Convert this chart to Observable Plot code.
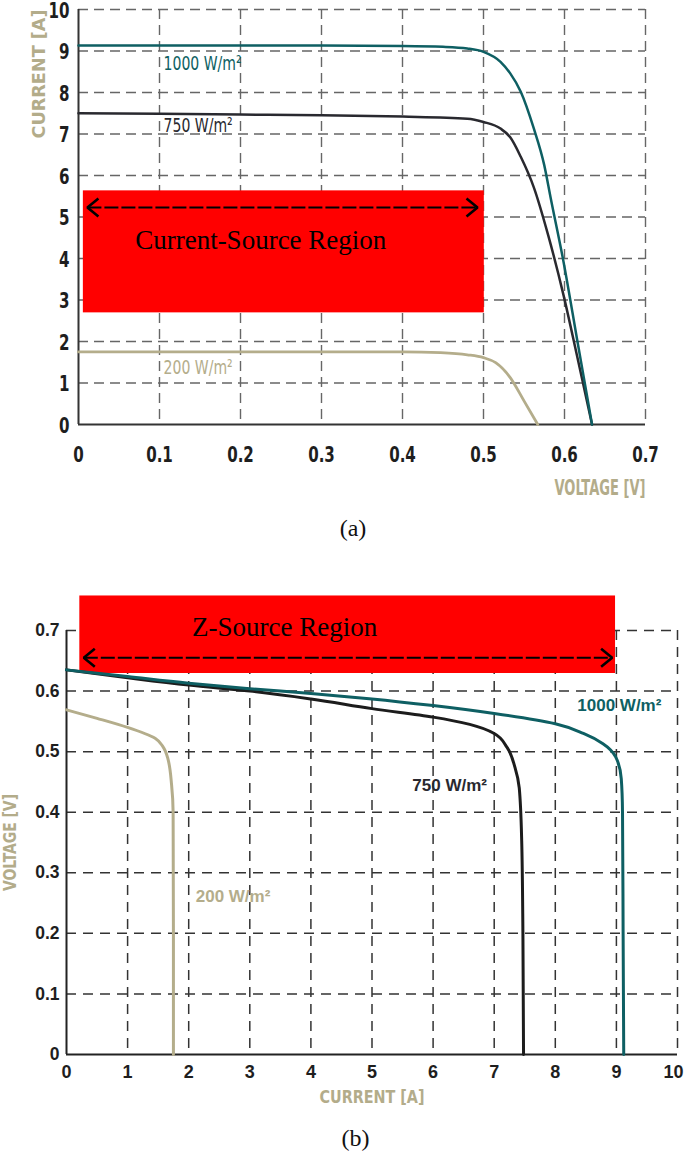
<!DOCTYPE html>
<html><head><meta charset="utf-8">
<script src="https://cdn.jsdelivr.net/npm/d3@7"></script>
<script src="https://cdn.jsdelivr.net/npm/@observablehq/plot@0.6"></script>
<style>
html,body{margin:0;padding:0;background:#fff;overflow:hidden;}
#wrap{width:685px;}
svg{display:block}
.cap{font-family:"Liberation Serif","Times New Roman",serif;font-size:24px;color:#111;text-align:center;white-space:nowrap;}
</style></head><body><div id="wrap"></div>
<script>
// ---------- data ----------
const irradiance = ["1000 W/m²", "750 W/m²", "200 W/m²"];
// panel (a): tick values
const voltageTicksA = [0, 0.1, 0.2, 0.3, 0.4, 0.5, 0.6, 0.7];
const currentTicksA = [0, 1, 2, 3, 4, 5, 6, 7, 8, 9, 10];
// panel (b): tick values
const currentTicksB = [0, 1, 2, 3, 4, 5, 6, 7, 8, 9, 10];
const voltageTicksB = [0, 0.1, 0.2, 0.3, 0.4, 0.5, 0.6, 0.7];

// panel (a) I-V curves: [voltage V, current A]
const ivA1000 = [[0,9.13],[0.1,9.13],[0.2,9.13],[0.3,9.13],[0.4,9.12],[0.45,9.10],[0.48,9.06],[0.50,8.98],[0.521,8.74],[0.533,8.46],[0.546,8.02],[0.562,7.14],[0.575,6.25],[0.583,5.45],[0.599,3.9],[0.616,2.0],[0.634,0]];
const ivA750  = [[0,7.50],[0.1,7.49],[0.2,7.47],[0.3,7.45],[0.4,7.42],[0.48,7.37],[0.50,7.29],[0.521,7.13],[0.533,6.92],[0.546,6.45],[0.562,5.72],[0.58,4.55],[0.599,3.1],[0.615,1.7],[0.634,0]];
const ivA200  = [[0,1.75],[0.2,1.75],[0.4,1.75],[0.447,1.73],[0.48,1.68],[0.50,1.61],[0.515,1.49],[0.533,1.13],[0.55,0.57],[0.567,0]];

// panel (b) V-I curves: [current A, voltage V]
const viB1000 = [[0,0.635],[1,0.624],[2,0.613],[3,0.604],[4,0.596],[5,0.587],[6,0.576],[7,0.563],[8,0.546],[8.46,0.530],[8.78,0.513],[8.99,0.491],[9.08,0.455],[9.10,0.40],[9.11,0.2],[9.12,0]];
const viB750  = [[0,0.635],[1,0.622],[2,0.610],[3,0.600],[4,0.587],[5,0.571],[6,0.557],[6.6,0.545],[7.0,0.530],[7.21,0.507],[7.34,0.474],[7.41,0.44],[7.45,0.353],[7.47,0.2],[7.48,0]];
const viB200  = [[0,0.569],[0.5,0.555],[1.0,0.540],[1.45,0.522],[1.58,0.508],[1.66,0.488],[1.72,0.445],[1.745,0.40],[1.75,0.2],[1.75,0]];

// curve label anchors
const labelPosA = [[0.105, 8.69], [0.105, 7.2], [0.105, 1.36]];   // [V, I]
const labelPosB = [[8.36, 0.576], [5.66, 0.444], [2.115, 0.26]];  // [I, V]

// highlighted regions
const regionA = [{x1: 0.006, x2: 0.501, y1: 2.69, y2: 5.63, ax1: 0.011, ax2: 0.4926, ay: 5.23, tx: 0.225, ty: 4.44, label: "Current-Source Region"}];
const regionB = [{x1: 0.218, x2: 8.986, y1: 0.629, y2: 0.757, ax1: 0.283, ax2: 8.93, ay: 0.655, tx: 3.57, ty: 0.706, label: "Z-Source Region"}];

// ---------- styles ----------
const TEAL = "#0e5f63", DARK = "#29292f", TAN = "#b4ad8b", TANTXT = "#b3ac8a";
const colors = [TEAL, DARK, TAN];
const NARROW = '"DejaVu Sans Condensed","Liberation Sans Narrow",sans-serif';
const SANS = '"Liberation Sans",Arial,sans-serif';
const SERIF = '"Liberation Serif","Times New Roman",serif';
const fmt = d => String(d);

function head(color) {
  const ns = "http://www.w3.org/2000/svg";
  const m = document.createElementNS(ns, "marker");
  m.setAttribute("viewBox", "-15 -12 30 24");
  m.setAttribute("markerWidth", 30);
  m.setAttribute("markerHeight", 24);
  m.setAttribute("markerUnits", "userSpaceOnUse");
  m.setAttribute("orient", "auto-start-reverse");
  m.setAttribute("overflow", "visible");
  const p = document.createElementNS(ns, "path");
  p.setAttribute("d", "M-11,-9L0,0L-11,9");
  p.setAttribute("fill", "none");
  p.setAttribute("stroke", color);
  p.setAttribute("stroke-width", 2.6);
  p.setAttribute("stroke-dasharray", "none");
  m.appendChild(p);
  return m;
}

function fitText(svg, map) {
  svg.querySelectorAll("text").forEach(t => {
    const L = map[t.textContent];
    if (L) { t.setAttribute("textLength", L); t.setAttribute("lengthAdjust", "spacingAndGlyphs"); }
  });
}
function squeeze(svg, test, factor) {
  svg.querySelectorAll("text").forEach(t => {
    if (t.hasAttribute("textLength")) return;
    if (!test(t)) return;
    const w = t.getComputedTextLength();
    if (w > 0) { t.setAttribute("textLength", w * factor); t.setAttribute("lengthAdjust", "spacingAndGlyphs"); }
  });
}

const lineFrom = (arr, c, w, curve) => Plot.line(arr, {x: d => d[0], y: d => d[1], stroke: c, strokeWidth: w, curve});

// ---------- panel (a) ----------
const gridA = {stroke: "#666", strokeOpacity: 1, strokeWidth: 1.4, strokeDasharray: "10,6"};
const plotA = Plot.plot({
  width: 685, height: 512,
  marginLeft: 78, marginRight: 40, marginTop: 9, marginBottom: 88,
  x: {domain: [0, 0.7]}, y: {domain: [0, 10]},
  style: {background: "white", overflow: "visible"},
  marks: [
    Plot.gridX(voltageTicksA.slice(1), gridA),
    Plot.gridY(currentTicksA.slice(1), gridA),
    Plot.rect(regionA, {x1: "x1", x2: "x2", y1: "y1", y2: "y2", fill: "#ff0000"}),
    Plot.link(regionA, {x1: "ax1", x2: "ax2", y1: "ay", y2: "ay", stroke: "#000", strokeWidth: 2, strokeDasharray: "14,3", markerStart: head, markerEnd: head}),
    Plot.text(regionA, {x: "tx", y: "ty", text: "label", fontFamily: SERIF, fontSize: 27, fill: "#000"}),
    Plot.ruleX([0], {stroke: "#333", strokeWidth: 2}),
    Plot.ruleY([0], {stroke: "#333", strokeWidth: 2}),
    lineFrom(ivA200, TAN, 2.8, "monotone-x"),
    lineFrom(ivA750, DARK, 2.5, "monotone-x"),
    lineFrom(ivA1000, TEAL, 2.5, "monotone-x"),
    Plot.text(labelPosA, {x: d => d[0], y: d => d[1], text: (d, i) => irradiance[i], fill: (d, i) => colors[i], textAnchor: "start", fontFamily: NARROW, fontSize: 20}),
    Plot.axisX(voltageTicksA, {anchor: "bottom", tickSize: 0, tickPadding: 22, tickFormat: fmt, fontSize: 21.5, fontFamily: NARROW, fontWeight: "bold", color: "#1e1e1e", label: null}),
    Plot.axisY(currentTicksA, {anchor: "left", tickSize: 0, tickPadding: 9, dy: 1.5, tickFormat: fmt, fontSize: 21.5, fontFamily: NARROW, fontWeight: "bold", color: "#1e1e1e", label: null}),
    Plot.text(["CURRENT [A]"], {frameAnchor: "top-left", rotate: -90, textAnchor: "end", dx: -46.5, fill: TANTXT, fontSize: 18, fontFamily: NARROW, fontWeight: "bold"}),
    Plot.text(["VOLTAGE [V]"], {frameAnchor: "bottom-right", textAnchor: "end", dy: 70, fill: TANTXT, fontSize: 21, fontFamily: NARROW, fontWeight: "bold"})
  ]
});
fitText(plotA, {"CURRENT [A]": 129, "VOLTAGE [V]": 91});

// ---------- panel (b) ----------
const gridB = {stroke: "#333", strokeOpacity: 1, strokeWidth: 1.5, strokeDasharray: "10,7"};
const axisFontB = {tickSize: 0, tickFormat: fmt, fontFamily: SANS, fontWeight: "bold", color: "#1e1e1e", label: null};
const plotB = Plot.plot({
  width: 685, height: 558,
  marginLeft: 66, marginRight: 8, marginTop: 70, marginBottom: 64,
  x: {domain: [0, 10]}, y: {domain: [0, 0.7]},
  style: {background: "white", overflow: "visible"},
  marks: [
    Plot.gridX(currentTicksB.slice(1), gridB),
    Plot.gridY(voltageTicksB.slice(1), gridB),
    Plot.rect(regionB, {x1: "x1", x2: "x2", y1: "y1", y2: "y2", fill: "#ff0000"}),
    Plot.link(regionB, {x1: "ax1", x2: "ax2", y1: "ay", y2: "ay", stroke: "#000", strokeWidth: 2, strokeDasharray: "14,3", markerStart: head, markerEnd: head}),
    Plot.text(regionB, {x: "tx", y: "ty", text: "label", fontFamily: SERIF, fontSize: 27, fill: "#000"}),
    Plot.ruleX([0], {stroke: "#222", strokeWidth: 2}),
    Plot.ruleY([0], {stroke: "#222", strokeWidth: 2}),
    lineFrom(viB200, TAN, 3, "monotone-y"),
    lineFrom(viB750, "#1c1c1c", 3, "monotone-y"),
    lineFrom(viB1000, TEAL, 3, "monotone-y"),
    Plot.text(labelPosB, {x: d => d[0], y: d => d[1], text: (d, i) => irradiance[i], fill: (d, i) => colors[i], textAnchor: "start", fontFamily: SANS, fontWeight: "bold", fontSize: 17}),
    Plot.axisX(currentTicksB.slice(0, -1), {...axisFontB, anchor: "bottom", tickPadding: 11, fontSize: 18}),
    Plot.axisX(currentTicksB.slice(-1), {...axisFontB, anchor: "bottom", tickPadding: 11, fontSize: 18, dx: -4}),
    Plot.axisY(voltageTicksB, {...axisFontB, anchor: "left", tickPadding: 7, fontSize: 17.5}),
    Plot.text(["VOLTAGE [V]"], {frameAnchor: "left", rotate: -90, textAnchor: "middle", dx: -56, fill: TANTXT, fontSize: 17, fontFamily: NARROW, fontWeight: "bold"}),
    Plot.text(["CURRENT [A]"], {frameAnchor: "bottom", textAnchor: "middle", dy: 48, fill: TANTXT, fontSize: 18, fontFamily: NARROW, fontWeight: "bold"})
  ]
});
fitText(plotB, {"VOLTAGE [V]": 97, "CURRENT [A]": 105});

// ---------- assemble ----------
const wrap = document.getElementById("wrap");
wrap.appendChild(plotA);
const capA = document.createElement("div");
capA.className = "cap"; capA.textContent = "(a)";
capA.style.cssText = "height:48px;line-height:32px;padding-left:21px;";
wrap.appendChild(capA);
wrap.appendChild(plotB);
const capB = document.createElement("div");
capB.className = "cap"; capB.textContent = "(b)";
capB.style.cssText = "height:33px;line-height:40px;padding-left:26px;";
wrap.appendChild(capB);

// condense the narrow-style texts of panel (a) (tick labels and curve labels)
squeeze(plotA, t => /^[0-9.]+$/.test(t.textContent) || t.textContent.includes("W/m"), 0.78);
</script>
</body></html>
